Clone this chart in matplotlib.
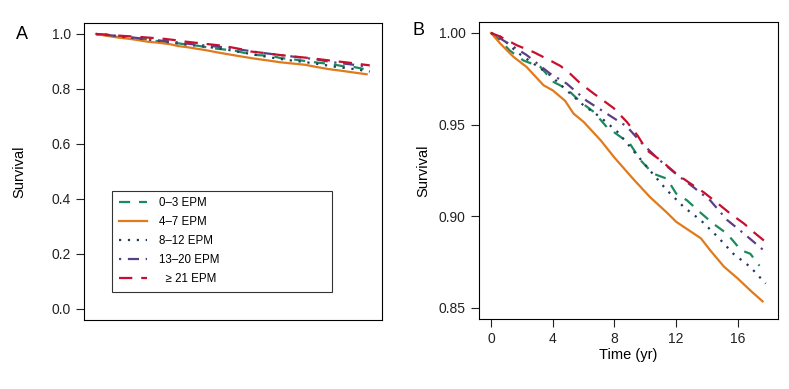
import numpy as np
import matplotlib.pyplot as plt

plt.rcParams['font.family'] = ['Liberation Sans', 'DejaVu Sans']

# survival curves (time in years)
t_green = [0, 0.6, 1.2, 2.1, 3.2, 4.05, 4.9, 5.8, 6.65, 7.5, 8.4, 9.0, 9.7, 10.5, 11.4, 12.0, 12.7, 13.6, 14.4, 15.3, 16.2, 16.8, 17.4]
s_green = [1.0, 0.996, 0.9905, 0.985, 0.9815, 0.9733, 0.9696, 0.9624, 0.957, 0.9487, 0.9433, 0.9396, 0.9305, 0.9233, 0.9205, 0.9124, 0.9087, 0.9018, 0.896, 0.8905, 0.8815, 0.8796, 0.873]

t_orange = [0, 0.6, 1.45, 2.3, 3.4, 4.0, 4.8, 5.35, 6.0, 7.1, 8.0, 9.2, 10.3, 11.4, 12.0, 13.6, 14.2, 15.1, 16.0, 16.8, 17.6]
s_orange = [1.0, 0.9942, 0.987, 0.9815, 0.9715, 0.9687, 0.963, 0.956, 0.9515, 0.9415, 0.932, 0.9205, 0.9105, 0.902, 0.897, 0.888, 0.8815, 0.8725, 0.866, 0.8596, 0.8536]

t_navy = [0, 0.6, 1.67, 2.75, 3.83, 4.9, 6.0, 7.1, 8.2, 9.2, 10.3, 11.4, 12.5, 13.6, 14.7, 15.7, 16.8, 17.8]
s_navy = [1.0, 0.998, 0.9896, 0.9833, 0.977, 0.9687, 0.9605, 0.954, 0.946, 0.936, 0.925, 0.9142, 0.905, 0.8978, 0.8887, 0.8796, 0.8724, 0.8633]

t_purple = [0, 0.6, 2.3, 3.8, 4.9, 6.2, 7.5, 8.8, 9.7, 10.8, 12.0, 13.1, 14.2, 15.3, 16.4, 17.8]
s_purple = [1.0, 0.997, 0.988, 0.978, 0.9724, 0.963, 0.956, 0.949, 0.9405, 0.9315, 0.923, 0.916, 0.9087, 0.898, 0.8905, 0.8805]

t_red = [0, 0.6, 1.67, 2.75, 3.83, 4.5, 5.1, 5.8, 6.65, 7.3, 7.95, 8.8, 9.5, 10.1, 11.0, 12.0, 12.9, 13.8, 14.7, 15.5, 16.4, 17.0, 17.8]
s_red = [1.0, 0.998, 0.9933, 0.9896, 0.985, 0.982, 0.978, 0.9724, 0.967, 0.963, 0.959, 0.9515, 0.944, 0.936, 0.9305, 0.9233, 0.918, 0.913, 0.907, 0.9015, 0.896, 0.8915, 0.886]

labels = ['0\u20133 EPM', '4\u20137 EPM', '8\u201312 EPM', '13\u201320 EPM', '  \u2265 21 EPM']
colors = ['#1b8a5e', '#e07a1c', '#1f3c5c', '#5b3f85', '#c8102e']
styles = [(0, (5, 4)), '-', (0, (1, 3)), (0, (1, 3, 5, 3)), (0, (6, 4))]
series = [(t_green, s_green), (t_orange, s_orange), (t_navy, s_navy),
          (t_purple, s_purple), (t_red, s_red)]

fig = plt.figure(figsize=(7.89, 3.89), dpi=100)
axA = fig.add_axes([0.1065, 0.1774, 0.3777, 0.7635])
axB = fig.add_axes([0.6071, 0.18, 0.379, 0.7635])

for ax in (axA, axB):
    for (t, s), c, ls, lab in zip(series, colors, styles, labels):
        ax.plot(t, s, color=c, linestyle=ls, lw=1.6, label=lab)
    ax.set_xlim(-0.78, 18.6)
    for sp in ax.spines.values():
        sp.set_linewidth(0.8)
    ax.tick_params(direction='out', length=6, width=0.8, labelsize=10, colors='#222222')

# panel A
axA.set_ylim(-0.04, 1.04)
axA.set_yticks([0.0, 0.2, 0.4, 0.6, 0.8, 1.0])
axA.set_yticklabels(['0.0', '0.2', '0.4', '0.6', '0.8', '1.0'])
axA.set_xticks([])
axA.set_ylabel('Survival', fontsize=10.5, labelpad=18)
leg = axA.legend(loc='lower left', bbox_to_anchor=(0.094, 0.094, 0.738, 0.33),
                 mode='expand', fontsize=8.3, frameon=True, fancybox=False,
                 edgecolor='black', handlelength=2.4, handletextpad=1.1,
                 borderpad=0.6, labelspacing=0.6, borderaxespad=0)
leg.get_frame().set_linewidth(0.8)
fig.text(0.028, 0.912, 'A', fontsize=13, va='center', ha='center')

# panel B
axB.set_ylim(0.844, 1.006)
axB.set_yticks([0.85, 0.90, 0.95, 1.00])
axB.set_yticklabels(['0.85', '0.90', '0.95', '1.00'])
axB.set_xticks([0, 4, 8, 12, 16])
axB.set_ylabel('Survival', fontsize=10.5, labelpad=6)
axB.set_xlabel('Time (yr)', fontsize=10.5, labelpad=1)
fig.text(0.53, 0.922, 'B', fontsize=13, va='center', ha='center')

fig.savefig('out.png', dpi=100)
